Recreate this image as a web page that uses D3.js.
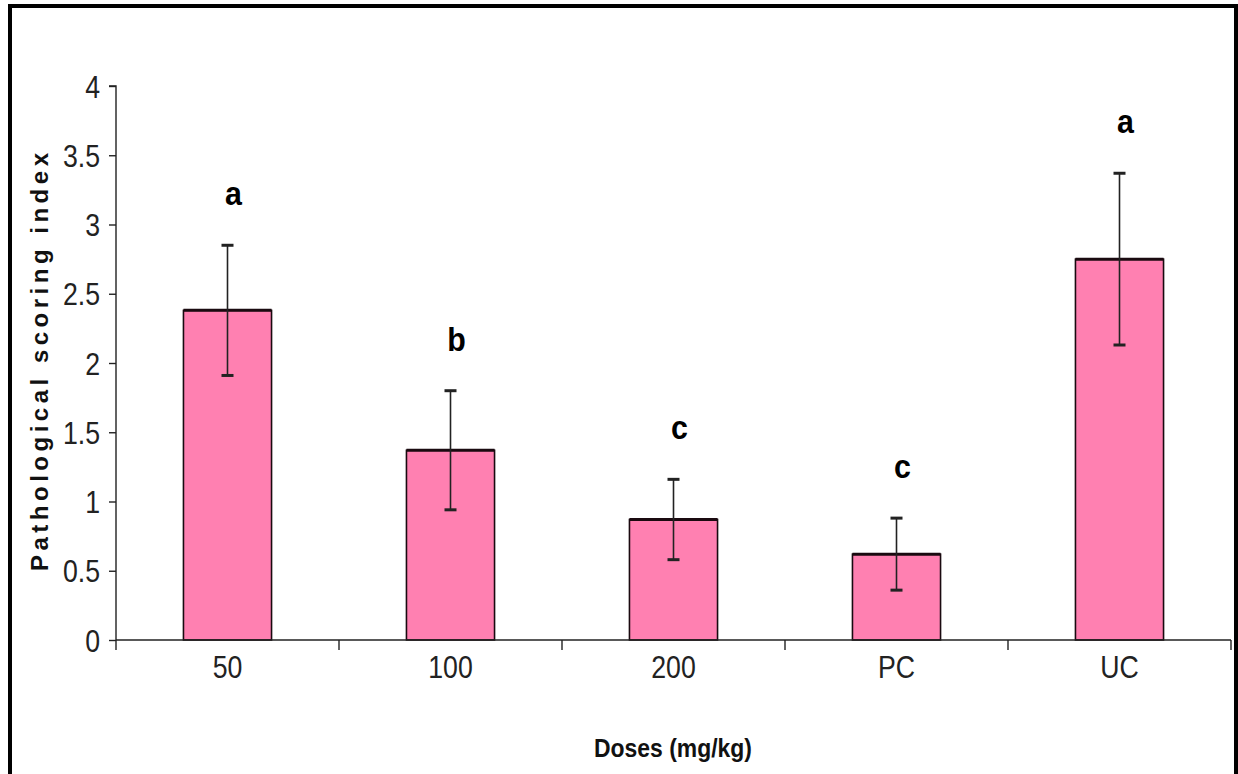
<!DOCTYPE html>
<html>
<head>
<meta charset="utf-8">
<script src="https://cdn.jsdelivr.net/npm/d3@7"></script>
<style>
  html, body { margin: 0; padding: 0; background: #fff; }
  svg { display: block; }
</style>
</head>
<body>
<svg id="chart" width="1238" height="774"></svg>
<script>
// ---- data ----
const categories = ["50", "100", "200", "PC", "UC"];
const means      = [2.38, 1.37, 0.87, 0.62, 2.75];
const errors     = [0.47, 0.43, 0.29, 0.26, 0.62];
const letters    = ["a", "b", "c", "c", "a"];
const yTicks     = [0, 0.5, 1, 1.5, 2, 2.5, 3, 3.5, 4];
const xTitle = "Doses (mg/kg)";
const yTitle = "Pathological scoring index";

const svg = d3.select("#chart");
const font = "'Liberation Sans', Arial, sans-serif";

// emulate a condensed (Arial Narrow-like) face by squeezing glyphs
function narrowText(sel, factor) {
  sel.each(function () {
    const w = this.getComputedTextLength();
    d3.select(this).attr("textLength", w * factor).attr("lengthAdjust", "spacingAndGlyphs");
  });
}

// frame
svg.append("rect").attr("x", 10).attr("y", 6).attr("width", 1226).attr("height", 800)
  .attr("fill", "none").attr("stroke", "#000").attr("stroke-width", 4);

const x = d3.scaleBand().domain(categories).range([116, 1231]).padding(0);
const y = d3.scaleLinear().domain([0, 4]).range([640, 86]);
const barW = x.bandwidth() * 0.395;
const cx = c => x(c) + x.bandwidth() / 2;

// bars
svg.append("g").selectAll("rect").data(categories).join("rect")
  .attr("x", c => cx(c) - barW / 2)
  .attr("y", (c, i) => y(means[i]))
  .attr("width", barW)
  .attr("height", (c, i) => y(0) - y(means[i]))
  .attr("fill", "#ff80b1")
  .attr("stroke", "#1a0a10").attr("stroke-width", 1.6);
svg.append("g").selectAll("line").data(categories).join("line")
  .attr("x1", c => cx(c) - barW / 2).attr("x2", c => cx(c) + barW / 2)
  .attr("y1", (c, i) => y(means[i])).attr("y2", (c, i) => y(means[i]))
  .attr("stroke", "#1a0a10").attr("stroke-width", 3);

// error bars
const eb = svg.append("g").attr("stroke", "#222").attr("stroke-width", 1.6);
categories.forEach((c, i) => {
  const hi = y(means[i] + errors[i]), lo = y(means[i] - errors[i]);
  eb.append("line").attr("x1", cx(c)).attr("x2", cx(c)).attr("y1", hi).attr("y2", lo);
  eb.append("line").attr("x1", cx(c) - 6).attr("x2", cx(c) + 6).attr("y1", hi).attr("y2", hi).attr("stroke-width", 3);
  eb.append("line").attr("x1", cx(c) - 6).attr("x2", cx(c) + 6).attr("y1", lo).attr("y2", lo).attr("stroke-width", 3);
});

// significance letters
svg.append("g").selectAll("text").data(categories).join("text")
  .attr("x", c => cx(c) + 6)
  .attr("y", (c, i) => y(means[i] + errors[i]) - 40)
  .attr("text-anchor", "middle")
  .attr("font-family", font).attr("font-weight", "bold").attr("font-size", 33)
  .attr("fill", "#000")
  .text((c, i) => letters[i])
  .call(narrowText, 0.92);

// y axis
const yAxis = d3.axisLeft(y).tickValues(yTicks).tickSize(7).tickPadding(9)
  .tickFormat(d => d3.format("")(d));
const gy = svg.append("g").attr("transform", "translate(116,0)").call(yAxis);
gy.select(".domain").attr("stroke", "#222").attr("stroke-width", 1.4).attr("d", "M-7,86H0V640");
gy.selectAll(".tick line").attr("stroke", "#222").attr("stroke-width", 1.4);
gy.selectAll(".tick text").attr("font-family", font).attr("font-size", 31).attr("fill", "#222")
  .attr("dy", "0.36em").call(narrowText, 0.86);

// x axis
const xAxis = d3.axisBottom(x).tickSize(0).tickPadding(16);
const gx = svg.append("g").attr("transform", "translate(0,640)").call(xAxis);
gx.select(".domain").attr("stroke", "#222").attr("stroke-width", 1.4).attr("d", "M116,0H1231");
gx.selectAll(".tick text").attr("font-family", font).attr("font-size", 31).attr("fill", "#222")
  .call(narrowText, 0.86);
const bounds = categories.map(c => x(c)).concat([x.range()[1]]);
gx.selectAll(".bt").data(bounds).join("line").attr("class", "bt")
  .attr("x1", d => d).attr("x2", d => d).attr("y1", 0).attr("y2", 10)
  .attr("stroke", "#222").attr("stroke-width", 1.4);

// axis titles
svg.append("text").attr("x", 673).attr("y", 757).attr("text-anchor", "middle")
  .attr("font-family", font).attr("font-weight", "bold").attr("font-size", 25)
  .attr("textLength", 158).attr("lengthAdjust", "spacingAndGlyphs")
  .attr("fill", "#111").text(xTitle);

svg.append("text").attr("transform", "translate(48,362) rotate(-90)").attr("text-anchor", "middle")
  .attr("font-family", font).attr("font-weight", "bold").attr("font-size", 24)
  .attr("textLength", 418).attr("lengthAdjust", "spacing")
  .attr("fill", "#111").text(yTitle);
</script>
</body>
</html>
